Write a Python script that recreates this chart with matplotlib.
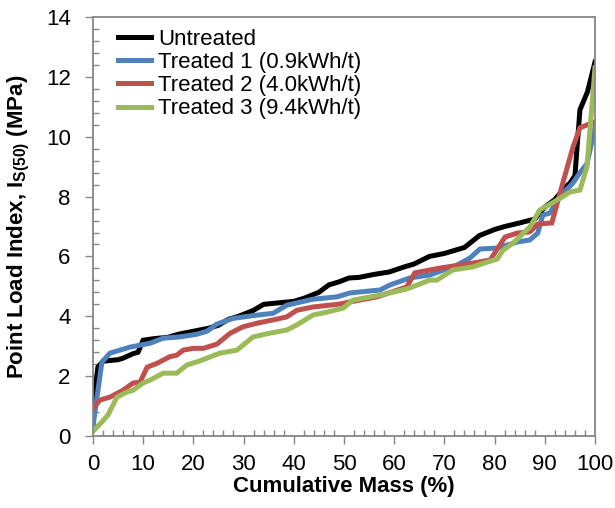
import matplotlib
matplotlib.use('Agg')
import matplotlib.pyplot as plt
from matplotlib.ticker import MultipleLocator

# Cumulative mass (%) / point load index (MPa)
untreated_x = [0, 1, 2, 5, 6, 8, 9, 10, 12, 15, 17, 20, 23, 25, 27, 29, 32, 34, 37,
               40, 42, 45, 47, 49, 51, 53, 56, 59, 62, 64, 67, 70, 72, 74, 77, 80,
               82, 85, 88, 90, 92, 94, 95, 96, 97, 98.5, 100]
untreated_y = [1.0, 2.3, 2.5, 2.55, 2.6, 2.75, 2.8, 3.2, 3.25, 3.3, 3.4, 3.5, 3.6,
               3.7, 3.9, 4.0, 4.2, 4.4, 4.45, 4.5, 4.6, 4.8, 5.05, 5.15, 5.28, 5.3,
               5.4, 5.48, 5.65, 5.75, 6.0, 6.1, 6.2, 6.3, 6.7, 6.9, 7.0, 7.12, 7.25,
               7.65, 7.9, 8.3, 8.45, 8.7, 10.9, 11.5, 12.5]

treated1_x = [0, 1.8, 3.4, 7.4, 11.4, 14, 17.3, 20.7, 22.7, 24.7, 27.9, 32.7, 35.9,
              38.6, 43.8, 48.6, 51.2, 57.2, 59.2, 63.1, 67.1, 72.5, 75.1, 77.1, 80.5,
              84.5, 87, 88.6, 89.6, 91, 93, 95.6, 97, 98.4, 100]
treated1_y = [0.3, 2.47, 2.77, 2.97, 3.1, 3.27, 3.31, 3.4, 3.5, 3.74, 3.93, 4.04, 4.1,
              4.37, 4.57, 4.65, 4.78, 4.88, 5.05, 5.28, 5.38, 5.71, 5.95, 6.25, 6.28,
              6.48, 6.55, 6.78, 7.38, 7.45, 8.0, 8.45, 8.8, 9.1, 10.3]

treated2_x = [0, 1.4, 3.4, 6, 8, 9.4, 10.8, 12.8, 15.3, 16.7, 18, 20, 22, 24.7, 27.3,
              29.9, 32.7, 35.9, 38.6, 40.6, 43.8, 49.2, 51.2, 56.6, 62.5, 64.1, 69.1,
              75.7, 79.1, 82.1, 84.5, 87, 88.6, 91.4, 93, 95.6, 97, 100]
treated2_y = [0.93, 1.2, 1.3, 1.53, 1.77, 1.8, 2.3, 2.43, 2.65, 2.7, 2.87, 2.93, 2.93,
              3.07, 3.43, 3.65, 3.77, 3.88, 3.98, 4.2, 4.31, 4.41, 4.48, 4.65, 4.98,
              5.45, 5.61, 5.78, 5.88, 6.65, 6.78, 6.82, 7.08, 7.12, 8.1, 9.65, 10.3,
              10.5]

treated3_x = [0, 1.8, 3, 4.8, 6.8, 8, 10, 11.4, 14, 16.7, 18.7, 21.3, 23.3, 25.3, 28.7,
              31.9, 35.3, 38.6, 40.6, 43.8, 46.6, 49.8, 51.8, 57.2, 62.5, 67.1, 68.5,
              71.7, 75.7, 78.5, 80.5, 81.7, 83.7, 87, 89, 92.4, 95, 97, 98.4, 100]
treated3_y = [0.15, 0.47, 0.7, 1.3, 1.47, 1.53, 1.77, 1.87, 2.1, 2.1, 2.37, 2.51, 2.64,
              2.77, 2.87, 3.31, 3.44, 3.54, 3.71, 4.04, 4.14, 4.27, 4.54, 4.71, 4.91,
              5.21, 5.21, 5.55, 5.65, 5.81, 5.91, 6.21, 6.45, 6.98, 7.55, 7.88, 8.15,
              8.22, 9.0, 12.3]

labels = ['Untreated', 'Treated 1 (0.9kWh/t)', 'Treated 2 (4.0kWh/t)',
          'Treated 3 (9.4kWh/t)']
colors = ['#000000', '#4F81BD', '#C0504D', '#9BBB59']

plt.rcParams['font.family'] = ['Liberation Sans', 'DejaVu Sans']
plt.rcParams['mathtext.fontset'] = 'custom'
plt.rcParams['mathtext.rm'] = 'Liberation Sans'
plt.rcParams['mathtext.bf'] = 'Liberation Sans:bold'

fig = plt.figure(figsize=(6.15, 5.08), dpi=100)
ax = fig.add_axes([0.151, 0.1417, 0.8165, 0.8248])

series = [(untreated_x, untreated_y), (treated1_x, treated1_y),
          (treated2_x, treated2_y), (treated3_x, treated3_y)]
for (xs, ys), lab, col in zip(series, labels, colors):
    ax.plot(xs, ys, color=col, lw=3.6, label=lab, solid_joinstyle='miter')

ax.set_xlim(0, 100)
ax.set_ylim(0, 14)
ax.xaxis.set_major_locator(MultipleLocator(10))
ax.xaxis.set_minor_locator(MultipleLocator(2))
ax.yaxis.set_major_locator(MultipleLocator(2))
ax.yaxis.set_minor_locator(MultipleLocator(0.4))
ax.tick_params(which='major', direction='out', length=6, width=1,
               color='#868686', labelsize=16)
ax.tick_params(axis='x', which='major', pad=7)
ax.tick_params(axis='y', which='major', pad=10)
ax.tick_params(which='minor', direction='in', length=4, width=1,
               color='#868686')
for sp in ax.spines.values():
    sp.set_color('#868686')
    sp.set_linewidth(1.3)

ax.set_xlabel('Cumulative Mass (%)', fontsize=16, fontweight='bold', labelpad=1)
ax.set_ylabel(r'Point Load Index, I$_{\mathbf{S(50)}}$ (MPa)', fontsize=16,
              fontweight='bold', labelpad=10)

ax.legend(loc='upper left', bbox_to_anchor=(0.05, 0.972), frameon=False,
          fontsize=16, handlelength=1.5, handletextpad=0.32, labelspacing=0.1,
          borderaxespad=0, borderpad=0)

fig.savefig('out.png', dpi=100)
